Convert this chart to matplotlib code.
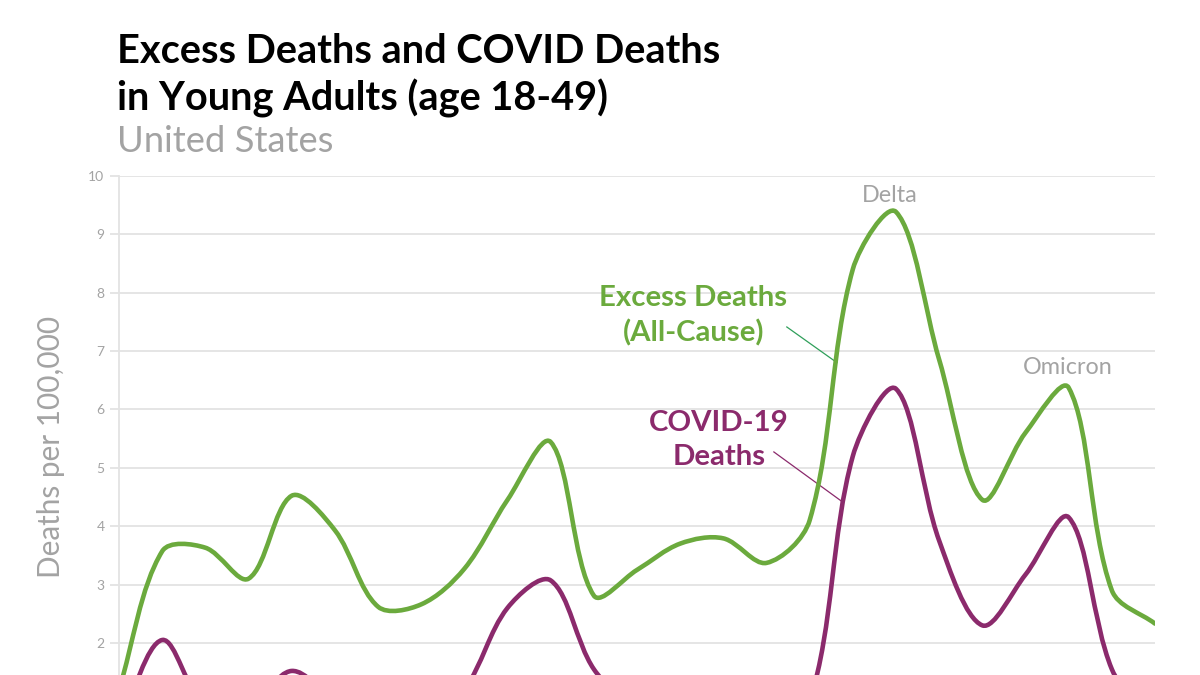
import matplotlib
matplotlib.use("Agg")
import matplotlib.pyplot as plt
from matplotlib.path import Path
from matplotlib.patches import PathPatch

plt.rcParams['font.family'] = ['Lato', 'DejaVu Sans']

# monthly values, Mar 2020 .. Mar 2022 (deaths per 100,000, ages 18-49)
months = ['Mar 2020', 'Apr 2020', 'May 2020', 'Jun 2020', 'Jul 2020', 'Aug 2020',
          'Sep 2020', 'Oct 2020', 'Nov 2020', 'Dec 2020', 'Jan 2021', 'Feb 2021',
          'Mar 2021', 'Apr 2021', 'May 2021', 'Jun 2021', 'Jul 2021', 'Aug 2021',
          'Sep 2021', 'Oct 2021', 'Nov 2021', 'Dec 2021', 'Jan 2022', 'Feb 2022',
          'Mar 2022']
excess = [1.2, 3.57, 3.63, 3.1, 4.52, 3.93, 2.62, 2.66, 3.27, 4.45, 5.44, 2.81,
          3.25, 3.7, 3.79, 3.37, 4.1, 8.4, 9.38, 6.85, 4.45, 5.6, 6.37, 2.9, 2.33]
covid = [0.6, 2.05, 0.9, 0.9, 1.52, 1.0, 0.6, 0.6, 1.2, 2.6, 3.07, 1.55,
         0.9, 0.7, 0.6, 0.6, 1.0, 5.2, 6.35, 3.75, 2.3, 3.17, 4.15, 1.55, 0.6]
yticks = [2, 3, 4, 5, 6, 7, 8, 9, 10]

GREEN = '#6BAA3D'
PURPLE = '#8B2A6C'
GRID = '#e3e3e3'
GREY = '#a3a3a3'


def smooth_line(ax, xs, ys, color):
    # Excel-style smoothed line: Bezier through each point, handles scaled
    # by the screen length of the neighbouring segments
    tr = ax.transData
    pts = tr.transform(list(zip(xs, ys)))
    n = len(pts)
    seg = [((pts[i + 1][0] - pts[i][0]) ** 2 + (pts[i + 1][1] - pts[i][1]) ** 2) ** 0.5
           for i in range(n - 1)]
    out_c, in_c = [], []
    for i in range(n):
        prev = pts[max(i - 1, 0)]
        nxt = pts[min(i + 1, n - 1)]
        tx, ty = nxt[0] - prev[0], nxt[1] - prev[1]
        d1 = seg[i - 1] if i > 0 else 0.0
        d2 = seg[i] if i < n - 1 else 0.0
        tot = d1 + d2
        out_c.append((pts[i][0] + tx * d2 / tot / 3, pts[i][1] + ty * d2 / tot / 3))
        in_c.append((pts[i][0] - tx * d1 / tot / 3, pts[i][1] - ty * d1 / tot / 3))
    verts = [pts[0]]
    codes = [Path.MOVETO]
    for i in range(n - 1):
        verts += [out_c[i], in_c[i + 1], pts[i + 1]]
        codes += [Path.CURVE4] * 3
    verts = tr.inverted().transform(verts)
    ax.add_patch(PathPatch(Path(verts, codes), fill=False, edgecolor=color,
                           lw=3.3, capstyle='round', joinstyle='round',
                           transform=tr, zorder=3))


fig = plt.figure(figsize=(12, 6.75), dpi=100)
ax = fig.add_axes([0.0992, -0.1255, 0.8633, 0.8652])

x = list(range(len(months)))
ax.set_xlim(0, len(months) - 1)
ax.set_ylim(0, 10)
smooth_line(ax, x, excess, GREEN)
smooth_line(ax, x, covid, PURPLE)

ax.set_yticks(yticks)
ax.set_xticks([])
ax.grid(axis='y', color=GRID, lw=1.3)
ax.set_axisbelow(True)
for s in ['top', 'right', 'bottom']:
    ax.spines[s].set_visible(False)
ax.spines['left'].set_color(GRID)
ax.spines['left'].set_linewidth(1.3)
ax.tick_params(axis='y', colors=GRID, labelcolor=GREY, labelsize=10,
               length=6.5, width=1.3, pad=4)

# labels on the curves
ax.text(13.30, 7.60, 'Excess Deaths\n(All-Cause)', color=GREEN, fontsize=21.2,
        fontweight='bold', ha='center', va='center', linespacing=1.38)
ax.text(13.90, 5.48, 'COVID-19\nDeaths', color=PURPLE, fontsize=21.2,
        fontweight='bold', ha='center', va='center', linespacing=1.38)
ax.plot([15.47, 16.63], [7.41, 6.80], color='#2f9f5a', lw=0.9)
ax.plot([15.17, 16.75], [5.27, 4.42], color=PURPLE, lw=0.9)
ax.text(17.86, 9.66, 'Delta', color=GREY, fontsize=16.8, ha='center', va='center')
ax.text(21.98, 6.71, 'Omicron', color=GREY, fontsize=16.8, ha='center', va='center')

fig.text(0.0975, 0.9067, 'Excess Deaths and COVID Deaths', fontsize=28.6,
         fontweight='bold', color='black', va='baseline')
fig.text(0.0975, 0.837, 'in Young Adults (age 18-49)', fontsize=28.6,
         fontweight='bold', color='black', va='baseline')
fig.text(0.0975, 0.775, 'United States', fontsize=26.2, color=GREY, va='baseline')
fig.text(0.0425, 0.338, 'Deaths per 100,000', fontsize=21.4, color=GREY,
         rotation=90, ha='center', va='center')

fig.savefig('out.png', dpi=100, facecolor='white')
